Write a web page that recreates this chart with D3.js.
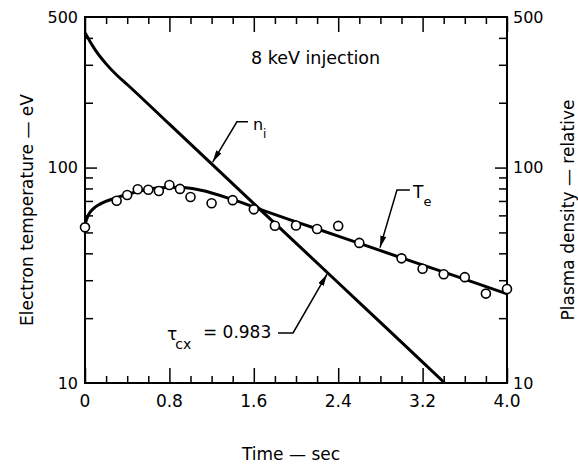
<!DOCTYPE html>
<html>
<head>
<meta charset="utf-8">
<script src="https://cdn.jsdelivr.net/npm/d3@7"></script>
<style>
  body { margin: 0; background: #fff; }
  text { font-family: "DejaVu Sans", sans-serif; fill: #000; }
</style>
</head>
<body>
<div id="chart"></div>
<script>
document.addEventListener('DOMContentLoaded', init, false);

var width = 578;
var height = 465;
var margin = { top: 17, right: 71, bottom: 82, left: 85 };

// measured electron temperature (eV)
var tempTime = [0, 0.3, 0.4, 0.5, 0.6, 0.7, 0.8, 0.9, 1.0, 1.2, 1.4, 1.6, 1.8, 2.0, 2.2, 2.4, 2.6, 3.0, 3.2, 3.4, 3.6, 3.8, 4.0];
var tempValue = [52.8, 70.2, 74.6, 79.3, 78.9, 77.9, 83.0, 79.6, 73.0, 68.3, 70.6, 64.0, 53.7, 53.8, 51.9, 53.6, 44.7, 37.9, 33.9, 32.0, 31.0, 26.0, 27.3];

// fitted T_e curve
var fitTime = [0, 0.03, 0.08, 0.15, 0.3, 0.5, 0.7, 0.9, 1.1, 1.4, 1.7, 2.0, 2.4, 3.0, 3.5, 4.0];
var fitValue = [54.5, 60, 64.5, 68, 72.5, 77.5, 80.5, 81, 78.5, 71, 63, 56, 48.1, 38.1, 31.5, 25.9];

// plasma density n_i (relative)
var densTime = [0, 0.05, 0.1, 0.2, 0.3, 0.4, 0.8, 1.2, 1.6, 2.0, 2.4, 2.8, 3.2, 3.41];
var densValue = [422, 383, 350, 303, 269, 243, 159, 104, 68, 44.6, 29.2, 19.1, 12.5, 10];

var xTicks = [0, 0.8, 1.6, 2.4, 3.2, 4.0];
var xTickLabels = ['0', '0.8', '1.6', '2.4', '3.2', '4.0'];
var yTicks = [10, 100, 500];
var yTickLabels = ['10', '100', '500'];
var yMinor = [20, 30, 40, 50, 60, 70, 80, 90, 200, 300, 400];

function init() {

  var svg = d3.select('#chart')
    .append('svg')
      .attr('width', width)
      .attr('height', height);

  var w = width - margin.left - margin.right;
  var h = height - margin.top - margin.bottom;

  var chart = svg.append('g')
    .attr('transform', 'translate(' + margin.left + ',' + margin.top + ')');

  var x = d3.scaleLinear().domain([0, 4]).range([0, w]);
  var y = d3.scaleLog().domain([10, 500]).range([h, 0]);

  svg.append('defs').append('marker')
      .attr('id', 'head')
      .attr('markerUnits', 'userSpaceOnUse')
      .attr('markerWidth', 12)
      .attr('markerHeight', 6)
      .attr('refX', 12)
      .attr('refY', 3)
      .attr('orient', 'auto')
    .append('path')
      .attr('d', 'M0,0L12,3L0,6Z')
      .attr('fill', '#000');

  // ticks: x every 0.2, long at multiples of 0.8
  var xMinor = d3.range(0, 4.001, 0.2);
  function isMajor(t) { return Math.abs(t / 0.8 - Math.round(t / 0.8)) < 1e-6; }

  chart.append('g')
      .attr('transform', 'translate(0,' + h + ')')
      .call(d3.axisBottom(x).tickValues(xMinor).tickSizeInner(0).tickSizeOuter(0).tickFormat(''))
      .call(function (g) {
        g.select('.domain').remove();
        g.selectAll('.tick line')
          .attr('y2', function (d) { return isMajor(d) ? -15 : -7; })
          .attr('stroke-width', 1.5);
      });

  chart.append('g')
      .call(d3.axisTop(x).tickValues(xMinor).tickSizeInner(0).tickSizeOuter(0).tickFormat(''))
      .call(function (g) {
        g.select('.domain').remove();
        g.selectAll('.tick line')
          .attr('y2', function (d) { return isMajor(d) ? 15 : 7; })
          .attr('stroke-width', 1.5);
      });

  var yAll = yMinor.concat([100]);

  chart.append('g')
      .call(d3.axisLeft(y).tickValues(yAll).tickSizeInner(0).tickSizeOuter(0).tickFormat(''))
      .call(function (g) {
        g.select('.domain').remove();
        g.selectAll('.tick line')
          .attr('x2', function (d) { return d == 100 ? 12 : 8; })
          .attr('stroke-width', 1.5);
      });

  chart.append('g')
      .attr('transform', 'translate(' + w + ',0)')
      .call(d3.axisRight(y).tickValues(yAll).tickSizeInner(0).tickSizeOuter(0).tickFormat(''))
      .call(function (g) {
        g.select('.domain').remove();
        g.selectAll('.tick line')
          .attr('x2', function (d) { return d == 100 ? -12 : -8; })
          .attr('stroke-width', 1.5);
      });

  chart.append('rect')
    .attr('width', w)
    .attr('height', h)
    .attr('fill', 'none')
    .attr('stroke', '#000')
    .attr('stroke-width', 2);

  // tick labels
  chart.selectAll('.xlab')
      .data(xTicks)
      .enter()
    .append('text')
      .attr('x', function (d) { return x(d); })
      .attr('y', h + 24)
      .attr('text-anchor', 'middle')
      .style('font-size', '17px')
      .text(function (d, i) { return xTickLabels[i]; });

  chart.selectAll('.ylabl')
      .data(yTicks)
      .enter()
    .append('text')
      .attr('x', -7)
      .attr('y', function (d) { return y(d); })
      .attr('dy', '0.36em')
      .attr('text-anchor', 'end')
      .style('font-size', '16px')
      .text(function (d, i) { return yTickLabels[i]; });

  chart.selectAll('.ylabr')
      .data(yTicks)
      .enter()
    .append('text')
      .attr('x', w + 6)
      .attr('y', function (d) { return y(d); })
      .attr('dy', '0.36em')
      .attr('text-anchor', 'start')
      .style('font-size', '16px')
      .text(function (d, i) { return yTickLabels[i]; });

  // axis titles
  svg.append('text')
    .attr('transform', 'translate(291,460)')
    .attr('text-anchor', 'middle')
    .style('font-size', '17px')
    .text('Time \u2014 sec');

  svg.append('text')
    .attr('transform', 'translate(33,210) rotate(-90)')
    .attr('text-anchor', 'middle')
    .style('font-size', '17px')
    .text('Electron temperature \u2014 eV');

  svg.append('text')
    .attr('transform', 'translate(574,210) rotate(-90)')
    .attr('text-anchor', 'middle')
    .style('font-size', '17px')
    .text('Plasma density \u2014 relative');

  // curves
  var line = d3.line()
    .x(function (d) { return x(d[0]); })
    .y(function (d) { return y(d[1]); })
    .curve(d3.curveMonotoneX);

  chart.append('path')
    .attr('d', line(d3.zip(densTime, densValue)))
    .attr('fill', 'none')
    .attr('stroke', '#000')
    .attr('stroke-width', 3);

  chart.append('path')
    .attr('d', line(d3.zip(fitTime, fitValue)))
    .attr('fill', 'none')
    .attr('stroke', '#000')
    .attr('stroke-width', 3);

  chart.selectAll('.pt')
      .data(d3.zip(tempTime, tempValue))
      .enter()
    .append('circle')
      .attr('cx', function (d) { return x(d[0]); })
      .attr('cy', function (d) { return y(d[1]); })
      .attr('r', 4.5)
      .attr('fill', '#fff')
      .attr('stroke', '#000')
      .attr('stroke-width', 1.6);

  // annotations (data coordinates)
  var leader = d3.line()
    .x(function (d) { return x(d[0]); })
    .y(function (d) { return y(d[1]); });

  var leaders = [
    [[1.545, 163], [1.44, 163], [1.21, 106]],
    [[3.08, 78.7], [2.957, 78.7], [2.796, 42.5]],
    [[1.829, 17.07], [1.972, 17.07], [2.294, 32]]
  ];

  chart.selectAll('.leader')
      .data(leaders)
      .enter()
    .append('path')
      .attr('d', function (d) { return leader(d); })
      .attr('fill', 'none')
      .attr('stroke', '#000')
      .attr('stroke-width', 1.5)
      .attr('marker-end', 'url(#head)');

  chart.append('text')
    .attr('x', x(1.573))
    .attr('y', y(303))
    .style('font-size', '17.5px')
    .text('8 keV injection');

  var ni = chart.append('text')
    .attr('x', x(1.592))
    .attr('y', y(149.5))
    .style('font-size', '16px');
  ni.append('tspan').text('n');
  ni.append('tspan').attr('dy', 8).style('font-size', '12px').text('i');

  var te = chart.append('text')
    .attr('x', x(3.109))
    .attr('y', y(72.3))
    .style('font-size', '17px');
  te.append('tspan').text('T');
  te.append('tspan').attr('dy', 8).style('font-size', '13px').text('e');

  var tau = chart.append('text')
    .attr('x', x(0.777))
    .attr('y', y(15.84))
    .style('font-size', '17px');
  tau.append('tspan').text('\u03c4');
  tau.append('tspan').attr('dy', 9).attr('dx', -2).style('font-size', '14px').text('cx');

  chart.append('text')
    .attr('x', x(1.118))
    .attr('y', y(16.18))
    .style('font-size', '17px')
    .text('= 0.983');
}
</script>
</body>
</html>
